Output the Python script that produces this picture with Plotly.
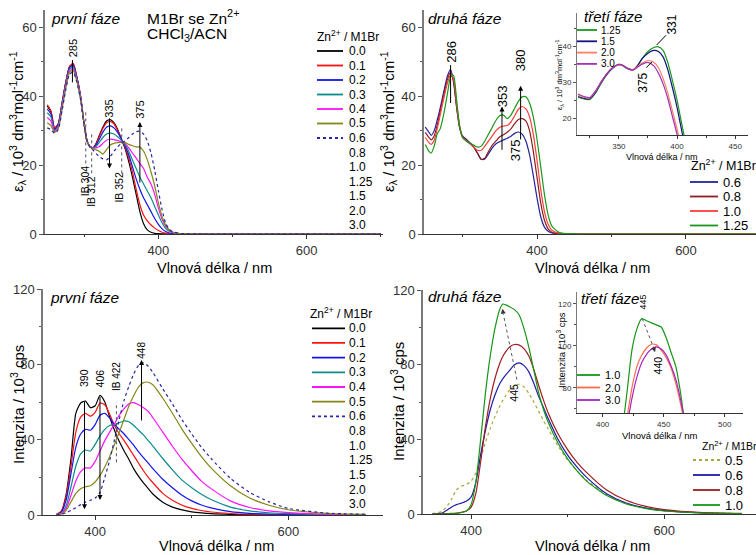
import plotly.graph_objects as go

FIG_W, FIG_H = 756, 555
FONT = "Liberation Sans, Arial, sans-serif"

# ---------------- DATA ----------------
# Top-left: absorption, "první fáze"
WL_ABS1 = [250, 255, 260, 265, 270, 275, 280, 285, 290, 295, 300, 304, 308, 312, 316, 320, 325, 330, 335, 340,
           345, 350, 355, 360, 365, 370, 375, 380, 385, 390, 395, 400, 405, 410, 415, 420, 430, 450, 500, 600, 700]
ABS1_00 = [37.2, 35.5, 30.5, 32.0, 38.0, 44.0, 48.5, 49.3, 45.5, 40.0, 31.5, 26.8, 25.3, 25.0, 26.3, 28.5, 31.0, 32.8, 33.2, 32.3,
           30.3, 27.5, 24.8, 21.0, 16.5, 11.5, 6.5, 3.0, 1.2, 0.5, 0.2, 0.1, 0.05, 0.03, 0.02, 0.01, 0, 0, 0, 0, 0]
ABS1_01 = [37.5, 35.8, 30.8, 32.1, 38.0, 44.0, 48.6, 49.5, 45.6, 40.0, 31.5, 26.8, 25.3, 25.0, 26.1, 28.2, 30.6, 32.3, 32.7, 32.0,
           30.0, 27.6, 25.2, 22.0, 18.0, 13.0, 8.5, 5.5, 3.8, 2.6, 1.7, 1.0, 0.5, 0.25, 0.1, 0.05, 0, 0, 0, 0, 0]
ABS1_02 = [36.3, 34.8, 30.3, 31.8, 37.7, 43.7, 48.2, 49.0, 45.3, 39.8, 31.5, 26.8, 25.3, 25.0, 25.8, 27.4, 29.5, 31.0, 31.4, 30.8,
           29.5, 27.6, 25.6, 23.0, 19.5, 16.0, 13.0, 10.5, 8.5, 6.5, 4.5, 2.8, 1.5, 0.7, 0.3, 0.1, 0, 0, 0, 0, 0]
ABS1_03 = [35.2, 34.0, 30.0, 31.4, 37.3, 43.3, 47.8, 48.5, 45.0, 39.6, 31.5, 26.8, 25.3, 25.0, 25.4, 26.5, 28.0, 29.0, 29.3, 29.0,
           28.2, 27.2, 26.0, 24.0, 21.5, 19.0, 16.5, 14.5, 12.5, 10.5, 8.0, 5.5, 3.2, 1.6, 0.7, 0.3, 0.05, 0, 0, 0, 0]
ABS1_04 = [33.8, 32.8, 29.7, 31.0, 36.8, 42.8, 47.3, 48.0, 44.7, 39.4, 31.5, 26.8, 25.3, 24.9, 25.0, 25.3, 26.3, 27.2, 27.5, 27.4,
           27.1, 26.8, 26.3, 25.0, 23.5, 22.0, 20.5, 19.0, 16.5, 14.5, 11.5, 7.5, 4.3, 2.2, 1.0, 0.4, 0.05, 0, 0, 0, 0]
ABS1_05 = [32.3, 31.5, 29.5, 30.7, 36.3, 42.3, 46.8, 47.5, 44.4, 39.2, 31.5, 26.8, 25.3, 24.7, 24.4, 24.0, 23.2, 24.5, 25.8, 26.3,
           26.5, 26.6, 26.5, 26.0, 25.6, 25.3, 25.2, 24.0, 21.5, 18.0, 14.0, 9.0, 5.0, 2.5, 1.1, 0.5, 0.1, 0, 0, 0, 0]
ABS1_06 = [30.8, 30.3, 29.2, 30.3, 35.8, 41.8, 46.3, 47.0, 44.0, 39.0, 31.5, 26.8, 25.0, 24.3, 23.3, 22.5, 21.8, 21.5, 22.5, 24.0,
           25.3, 26.3, 27.0, 28.0, 29.0, 29.7, 29.8, 29.0, 27.0, 23.5, 18.5, 12.5, 7.0, 3.0, 1.3, 0.6, 0.15, 0, 0, 0, 0]
LEGEND1_LABELS = ["0.0", "0.1", "0.2", "0.3", "0.4", "0.5", "0.6", "0.8", "1.0", "1.25", "1.5", "2.0", "3.0"]

# Top-right: absorption, "druhá fáze"
WL_ABS2 = [250, 255, 258, 262, 266, 270, 275, 280, 284, 288, 292, 296, 300, 305, 310, 315, 320, 325, 330, 335,
           340, 345, 350, 355, 360, 365, 370, 375, 380, 385, 390, 395, 400, 405, 410, 415, 420, 430, 450, 500, 600, 700]
ABS2_06 = [31.0, 29.5, 28.6, 30.0, 33.0, 36.5, 41.5, 46.0, 47.8, 44.0, 37.0, 31.0, 28.5, 27.5, 26.5, 25.3, 23.5, 21.7, 21.8, 23.3,
           25.0, 26.2, 26.8, 27.3, 27.8, 28.4, 29.2, 29.6, 29.0, 27.0, 23.0, 17.0, 10.5, 5.0, 2.0, 0.8, 0.3, 0.05, 0, 0, 0, 0]
ABS2_08 = [29.5, 28.0, 27.3, 28.5, 31.5, 35.5, 40.5, 45.0, 47.0, 44.5, 37.0, 31.0, 28.3, 27.3, 26.3, 25.2, 23.5, 21.7, 22.0, 24.0,
           25.8, 27.0, 28.2, 28.8, 29.5, 30.5, 32.0, 33.2, 33.5, 32.8, 30.0, 24.0, 16.5, 9.0, 4.0, 1.5, 0.5, 0.1, 0, 0, 0, 0]
ABS2_10 = [28.0, 26.5, 26.0, 27.2, 30.5, 34.5, 39.5, 44.0, 46.2, 45.0, 38.0, 31.5, 28.0, 27.0, 26.2, 25.2, 24.3, 24.3, 25.5, 27.0,
           28.5, 30.0, 31.0, 31.3, 31.5, 32.5, 34.3, 36.2, 37.0, 36.3, 34.0, 29.0, 21.5, 13.0, 6.5, 2.8, 1.1, 0.2, 0, 0, 0, 0]
ABS2_125 = [26.0, 24.0, 23.5, 25.5, 29.0, 30.5, 35.0, 41.0, 45.5, 46.0, 39.0, 31.5, 28.0, 27.0, 26.3, 25.8, 25.2, 25.5, 27.0, 29.0,
            31.0, 33.0, 34.3, 34.5, 33.5, 34.5, 36.5, 38.5, 39.8, 39.8, 38.0, 34.0, 27.5, 19.5, 11.5, 5.5, 2.3, 0.4, 0.05, 0, 0, 0]
LEGEND2_LABELS = ["0.6", "0.8", "1.0", "1.25"]

# Inset of top-right: "třetí fáze"
WL_IN1 = [315, 320, 325, 330, 335, 340, 345, 350, 353, 357, 362, 366, 370, 375, 380, 384, 388, 392, 396, 400, 404, 408]
IN1_125 = [25.8, 25.3, 25.2, 27.0, 29.8, 32.2, 34.0, 34.8, 34.6, 33.8, 33.4, 34.5, 36.5, 38.5, 39.6, 39.8, 38.8, 35.5, 30.5, 25.0, 18.5, 12.0]
IN1_15 = [26.0, 25.5, 25.4, 27.2, 30.0, 32.3, 34.0, 34.9, 34.7, 33.9, 33.4, 34.6, 36.5, 38.0, 38.8, 38.5, 37.0, 33.5, 28.5, 23.0, 16.5, 10.0]
IN1_20 = [26.5, 25.8, 25.6, 27.5, 30.2, 32.5, 34.1, 34.8, 34.6, 33.8, 33.4, 34.3, 35.3, 36.0, 35.5, 34.0, 31.0, 27.0, 22.0, 17.0, 11.0, 5.0]
IN1_30 = [26.7, 26.0, 25.7, 27.6, 30.2, 32.5, 34.1, 34.9, 34.7, 33.8, 33.4, 34.1, 35.0, 35.5, 34.5, 32.5, 29.5, 25.5, 20.5, 15.5, 9.5, 4.0]
LEGEND_IN1_LABELS = ["1.25", "1.5", "2.0", "3.0"]

# Bottom-left: emission, "první fáze"
WL_EM1 = [360, 365, 370, 375, 380, 385, 390, 395, 400, 405, 410, 415, 420, 425, 430, 435, 440, 445, 450, 455,
          460, 470, 480, 490, 500, 510, 520, 540, 560, 580, 600, 640, 680]
EM1_00 = [0.3, 2, 11, 30, 54, 59.5, 60.5, 57, 58, 63.5, 60, 52, 45, 39, 34, 29.5, 24.5, 20.5, 17, 14,
          11, 6.8, 4.2, 2.7, 1.7, 1.1, 0.7, 0.35, 0.2, 0.1, 0.05, 0, 0]
EM1_01 = [0.3, 2, 10, 26, 44, 52, 54, 52.5, 54.5, 59.5, 58.5, 53.5, 47.5, 43, 39.5, 35.5, 31.5, 27.5, 23.5, 20,
          17, 11.5, 7.8, 5.2, 3.5, 2.4, 1.6, 0.8, 0.4, 0.2, 0.1, 0.05, 0]
EM1_02 = [0.3, 1.5, 8, 22, 36, 43, 45.5, 45, 48, 53, 54, 51.5, 48, 45.5, 43, 40, 37, 33.5, 30.5, 27.5,
          24.5, 19, 14.5, 10.5, 7.5, 5.3, 3.8, 1.8, 0.9, 0.5, 0.3, 0.1, 0.05]
EM1_03 = [0.2, 1, 5, 15, 26, 32.5, 34.5, 34, 37.5, 42, 45.5, 47.5, 48, 49, 50, 49.5, 47.5, 45, 42.5, 39.5,
          36.5, 30, 24, 18.5, 14.5, 11, 8.2, 4.2, 2.2, 1.2, 0.7, 0.2, 0.1]
EM1_04 = [0.2, 0.8, 3.5, 10.5, 18, 23, 25, 25, 28.5, 34, 39.5, 44, 48.5, 53, 56.5, 59, 59.7, 58.5, 57, 55,
          51.5, 44, 36.5, 29.5, 23.5, 18, 14, 7.5, 4, 2.2, 1.3, 0.4, 0.15]
EM1_05 = [0.1, 0.5, 2.5, 7, 11.5, 14, 15, 15.5, 17.5, 21, 25.5, 31, 37.5, 44, 51, 58, 63.5, 68, 70.3, 70.5,
          69, 62, 54, 45.5, 38, 31, 25, 15.5, 9, 5.2, 2.8, 0.9, 0.3]
EM1_06 = [0, 0.3, 1.2, 2.5, 3.8, 5.5, 6.8, 7.8, 9, 12, 20, 29, 40, 51, 61, 68.5, 75, 79.5, 80.8, 79,
          75.5, 67, 59, 50.5, 43, 36, 30, 19.5, 12, 7, 3.5, 1.0, 0.4]

# Bottom-right: emission, "druhá fáze"
WL_EM2 = [360, 365, 370, 375, 380, 385, 390, 395, 400, 405, 410, 415, 420, 425, 430, 433, 436, 440, 445, 450,
          455, 460, 465, 470, 475, 480, 490, 500, 510, 520, 540, 560, 580, 600, 640, 680]
EM2_05 = [0.2, 0.6, 1.5, 4, 8, 13, 14.8, 15.8, 17.5, 22, 30, 38.5, 46, 52.5, 58, 61, 63.5, 66.5, 69, 69.5,
          68, 64.5, 60, 55, 50, 45.5, 36.5, 29, 23, 18, 10.5, 5.8, 3.2, 1.8, 0.6, 0.2]
EM2_06 = [0, 0.1, 0.5, 2, 3.8, 5, 5.8, 6.8, 9, 17, 32, 45, 56, 64, 70, 72.5, 74.5, 77, 80, 81,
          79.5, 76, 70, 63, 57, 51, 40, 31.5, 25, 19.5, 11, 6, 3.3, 1.8, 0.6, 0.2]
EM2_08 = [0, 0, 0.1, 0.2, 0.3, 0.5, 0.9, 1.6, 3.5, 11, 28, 47, 62, 73, 81, 84.5, 87, 89.5, 90.8, 90.5,
          88.5, 84.5, 77.5, 69, 61, 54, 43, 34.5, 27.5, 22, 13, 7.5, 4.2, 2.3, 0.7, 0.3]
EM2_10 = [0, 0, 0, 0.1, 0.2, 0.4, 0.8, 1.5, 5, 17, 40, 65, 85, 100, 110, 112.5, 112, 111, 109.5, 106.5,
          99, 89, 77, 65, 56, 49, 38, 29.5, 23, 17.5, 10, 5.5, 3, 1.6, 0.5, 0.15]
LEGEND4_LABELS = ["0.5", "0.6", "0.8", "1.0"]

# Inset of bottom-right: "třetí fáze"
WL_IN2 = [412, 416, 420, 424, 428, 432, 436, 440, 444, 448, 452, 456, 460, 464, 468, 472]
IN2_10 = [50, 60, 78, 98, 108, 113, 112, 111, 110, 109, 104, 97, 90, 77, 60, 48]
IN2_20 = [42, 53, 66, 80, 90, 95.5, 99, 100.8, 100.5, 98, 94.5, 89.5, 82, 72, 61, 50]
IN2_30 = [38, 48, 62, 75, 85, 92, 96, 98.5, 99.5, 98.5, 95.7, 90.5, 84, 74, 62, 51]
LEGEND_IN2_LABELS = ["1.0", "2.0", "3.0"]

# ---------------- STYLE ----------------
C_BLACK, C_RED, C_BLUE, C_TEAL = "#000000", "#FF1010", "#1414F0", "#0A8C8C"
C_MAG, C_OLIVE, C_NAVYDOT = "#FF10FF", "#86861A", "#2828A0"
C2_06, C2_08, C2_10, C2_125 = "#22229E", "#8E1E1E", "#FF3C3C", "#18991A"
CI1 = ["#18991A", "#141482", "#FF7F66", "#A032B4"]
C4 = ["#A8A83A", "#1C1CAA", "#A01E1E", "#169616"]
CI2 = ["#169616", "#FF6A4D", "#A424C4"]


def px_x(x):
    return x / FIG_W


def px_y(y):
    return 1 - y / FIG_H


fig = go.Figure()


def add_series(xs, ys, color, axis_id, dash="solid", width=1.2):
    fig.add_trace(go.Scatter(
        x=xs, y=ys, mode="lines", showlegend=False, hoverinfo="skip",
        line=dict(color=color, width=width, dash=dash, shape="spline", smoothing=0.6),
        xaxis="x" + axis_id, yaxis="y" + axis_id))


# panel 1
for ys, col, dash in [(ABS1_00, C_BLACK, "solid"), (ABS1_01, C_RED, "solid"), (ABS1_02, C_BLUE, "solid"),
                      (ABS1_03, C_TEAL, "solid"), (ABS1_04, C_MAG, "solid"), (ABS1_05, C_OLIVE, "solid"),
                      (ABS1_06, C_NAVYDOT, "dot")]:
    add_series(WL_ABS1, ys, col, "", dash)
# panel 2
for ys, col in [(ABS2_06, C2_06), (ABS2_08, C2_08), (ABS2_10, C2_10), (ABS2_125, C2_125)]:
    add_series(WL_ABS2, ys, col, "2")
# inset 1
for ys, col in zip([IN1_125, IN1_15, IN1_20, IN1_30], CI1):
    add_series(WL_IN1, ys, col, "5")
# panel 3
for ys, col, dash in [(EM1_00, C_BLACK, "solid"), (EM1_01, C_RED, "solid"), (EM1_02, C_BLUE, "solid"),
                      (EM1_03, C_TEAL, "solid"), (EM1_04, C_MAG, "solid"), (EM1_05, C_OLIVE, "solid"),
                      (EM1_06, C_NAVYDOT, "dot")]:
    add_series(WL_EM1, ys, col, "3", dash)
# panel 4
for ys, col, dash in zip([EM2_05, EM2_06, EM2_08, EM2_10], C4, ["dot", "solid", "solid", "solid"]):
    add_series(WL_EM2, ys, col, "4", dash)
# inset 2
for ys, col in zip([IN2_10, IN2_20, IN2_30], CI2):
    add_series(WL_IN2, ys, col, "6")


def xaxis(px0, px1, rng, dtick, mdtick, anchor, fs=13, lw=1.2, tl=4):
    return dict(domain=[px_x(px0), min(1.0, px_x(px1))], range=rng, anchor=anchor, automargin=False,
                showline=True, linecolor="#333", linewidth=lw, ticks="outside", ticklen=tl,
                tickcolor="#333", dtick=dtick, tick0=0, showgrid=False, zeroline=False,
                minor=dict(dtick=mdtick, ticks="outside", ticklen=2, tickcolor="#333", showgrid=False),
                tickfont=dict(size=fs, color="#333", family=FONT))


def yaxis(py_top, py_bot, rng, dtick, mdtick, anchor, fs=13, lw=1.5, tl=4):
    return dict(domain=[px_y(py_bot), px_y(py_top)], range=rng, anchor=anchor, automargin=False,
                showline=True, linecolor="#7a7a7a", linewidth=lw, ticks="outside", ticklen=tl,
                tickcolor="#555", dtick=dtick, tick0=0, showgrid=False, zeroline=False,
                minor=dict(dtick=mdtick, ticks="outside", ticklen=2, tickcolor="#555", showgrid=False),
                tickfont=dict(size=fs, color="#333", family=FONT))


fig.update_layout(
    template="none",
    width=FIG_W, height=FIG_H, margin=dict(l=0, r=0, t=0, b=0, autoexpand=False),
    paper_bgcolor="white", plot_bgcolor="rgba(0,0,0,0)", showlegend=False,
    font=dict(family=FONT, color="black"),
    xaxis=xaxis(45, 383, [247, 703], 200, 100, "y"),
    yaxis=yaxis(10, 234, [0, 65], 20, 10, "x"),
    xaxis2=xaxis(424, 756, [248.3, 694], 200, 100, "y2"),
    yaxis2=yaxis(10, 234, [0, 65], 20, 10, "x2"),
    xaxis3=xaxis(43, 383, [346, 698], 200, 100, "y3"),
    yaxis3=yaxis(289, 515, [0, 120], 40, 20, "x3"),
    xaxis4=xaxis(423, 756, [350.3, 695], 200, 100, "y4"),
    yaxis4=yaxis(290, 514, [0, 120], 40, 20, "x4"),
    xaxis5=xaxis(577, 748, [314, 461], 50, 25, "y5", fs=8, lw=1, tl=3),
    yaxis5=yaxis(13, 135, [15.3, 49.2], 10, 5, "x5", fs=8, lw=1, tl=3),
    xaxis6=xaxis(577, 743, [379, 515], 50, 25, "y6", fs=8, lw=1, tl=3),
    yaxis6=yaxis(292, 413, [68, 125.7], 20, 10, "x6", fs=8, lw=1, tl=3),
)

ann = []
shapes = []


def ptext(text, x, y, size, italic=False, anchor="left", angle=0):
    ann.append(dict(text=text, x=px_x(x), y=px_y(y), xref="paper", yref="paper", showarrow=False,
                    xanchor=anchor, yanchor="middle", textangle=angle,
                    font=dict(size=size, family=FONT, color="black",
                              style="italic" if italic else "normal")))


def rtext(text, x, y, ax_id, size):
    ann.append(dict(text=text, x=x, y=y, xref="x" + ax_id, yref="y" + ax_id, showarrow=False,
                    textangle=-90, xanchor="center", yanchor="middle",
                    font=dict(size=size, family=FONT, color="black")))


def arrow(x0, y0, x1, y1, ax_id, color="black"):
    ann.append(dict(text="", x=x1, y=y1, ax=x0, ay=y0, xref="x" + ax_id, yref="y" + ax_id,
                    axref="x" + ax_id, ayref="y" + ax_id, showarrow=True, arrowhead=2,
                    arrowsize=1, arrowwidth=1, arrowcolor=color, standoff=0, startstandoff=0))


def seg(x0, y0, x1, y1, ax_id, dash="solid", color="black", width=1):
    shapes.append(dict(type="line", x0=x0, y0=y0, x1=x1, y1=y1, xref="x" + ax_id, yref="y" + ax_id,
                       line=dict(color=color, width=width, dash=dash)))


def legend(title, tx, ty, labels, colors, dashes, y0, step, lx0, lx1, txt_x, fs, tfs):
    if title:
        ptext(title, tx, ty, tfs)
    for i, lab in enumerate(labels):
        y = y0 + i * step
        col = colors[i] if i < len(colors) else None
        if col:
            shapes.append(dict(type="line", xref="paper", yref="paper", x0=px_x(lx0), x1=px_x(lx1),
                               y0=px_y(y), y1=px_y(y),
                               line=dict(color=col, width=1.8, dash=dashes[i])))
        ptext(lab, txt_x, y, fs)


ZN = "Zn<sup>2+</sup> / M1Br"
legend(ZN, 315, 36, LEGEND1_LABELS, [C_BLACK, C_RED, C_BLUE, C_TEAL, C_MAG, C_OLIVE, C_NAVYDOT],
       ["solid"] * 6 + ["dot"], 51, 14.5, 317, 343, 347, 12, 12)
legend(ZN, 689, 165, LEGEND2_LABELS, [C2_06, C2_08, C2_10, C2_125], ["solid"] * 4,
       182, 14.5, 690, 718, 721, 13, 12.5)
legend("", 577, 30, LEGEND_IN1_LABELS, CI1, ["solid"] * 4, 30, 11.3, 577, 597, 599, 10, 10)
legend(ZN, 308, 313, LEGEND1_LABELS, [C_BLACK, C_RED, C_BLUE, C_TEAL, C_MAG, C_OLIVE, C_NAVYDOT],
       ["solid"] * 6 + ["dot"], 328.3, 14.67, 312, 345, 347, 12, 12)
legend(ZN, 700, 445, LEGEND4_LABELS, C4, ["dot", "solid", "solid", "solid"], 460, 15, 693, 720, 723, 13, 10.5)
legend("", 577, 375, LEGEND_IN2_LABELS, CI2, ["solid"] * 3, 375, 12.5, 577, 600, 603, 11, 11)

# panel titles
ptext("první fáze", 49, 18, 15.5, italic=True)
ptext("M1Br se Zn<sup>2+</sup>", 145, 17, 15.5)
ptext("CHCl<sub>3</sub>/ACN", 145, 34, 15.5)
ptext("druhá fáze", 426, 18, 15.5, italic=True)
ptext("třetí fáze", 582, 16, 15, italic=True)
ptext("první fáze", 48, 297, 15.5, italic=True)
ptext("druhá fáze", 426, 296, 15.5, italic=True)
ptext("třetí fáze", 579, 298, 15, italic=True)

# axis titles
XT = "Vlnová délka / nm"
EPS = "ε<sub>λ</sub> / 10<sup>3</sup> dm<sup>3</sup>mol<sup>-1</sup>cm<sup>-1</sup>"
INT = "Intenzita / 10<sup>3</sup> cps"
ptext(XT, 214, 268, 14.5, anchor="center")
ptext(XT, 592, 268, 14.5, anchor="center")
ptext(XT, 216, 546, 14.5, anchor="center")
ptext(XT, 592, 546, 14.5, anchor="center")
ptext(XT, 662, 157, 9, anchor="center")
ptext(XT, 660, 435, 9.5, anchor="center")
ptext(EPS, 18, 122, 15, anchor="center", angle=-90)
ptext(EPS, 389, 122, 15, anchor="center", angle=-90)
ptext(INT, 17, 405, 15, anchor="center", angle=-90)
ptext(INT, 397, 402, 15, anchor="center", angle=-90)
ptext(EPS, 560, 75, 7.5, anchor="center", angle=-90)
ptext(INT, 561, 350, 9.5, anchor="center", angle=-90)

# panel 1 markers
rtext("285", 284, 54, "", 11)
seg(284, 50.5, 284, 44, "")
rtext("335", 334, 36.5, "", 11)
arrow(334, 34, 334, 19, "")
rtext("375", 375, 36, "", 11)
arrow(375, 14.5, 375, 32.5, "")
rtext("IB 304", 300.5, 15.5, "", 10.5)
seg(302, 20.5, 302, 36, "", dash="dot", color="#555")
rtext("IB 312", 308, 12.3, "", 10.5)
seg(310, 17.6, 310, 29, "", dash="dot", color="#555")
rtext("IB 352", 347, 13.5, "", 10.5)
seg(350.5, 17.6, 350.5, 31, "", dash="dot", color="#555")

# panel 2 markers
rtext("286", 284, 52.8, "2", 13)
seg(284, 49, 284, 38, "2")
rtext("353", 353, 40, "2", 13)
arrow(353, 24, 353, 37, "2")
rtext("380", 379, 50.5, "2", 13)
arrow(378, 27, 378, 43, "2")
rtext("375", 370.5, 24.3, "2", 13)

# inset 1 markers
rtext("331", 396, 46.1, "5", 12)
seg(390.5, 43, 382.5, 40.3, "5")
rtext("375", 371, 29.9, "5", 12)
seg(373.5, 34, 378.4, 35.6, "5")

# panel 3 markers
rtext("390", 389, 72.5, "3", 10.5)
arrow(389, 61, 389, 3, "3")
rtext("406", 405, 72.5, "3", 10.5)
arrow(405, 63.5, 405, 8, "3")
rtext("IB 422", 422, 73.5, "3", 10)
seg(422, 28, 422, 60, "3", dash="dot", color="#555")
rtext("448", 448, 87.5, "3", 10)
arrow(448, 49.4, 448, 82.3, "3")

# panel 4 markers
rtext("432", 434, 120.5, "4", 10)
seg(447.5, 72, 433.5, 107, "4", dash="dot", color="#555")
arrow(433.5, 107, 432.5, 110, "4", color="#333")
rtext("445", 444.5, 65, "4", 10.5)

# inset 2 markers
rtext("445", 432.8, 121, "6", 9)
seg(432.5, 113, 441.5, 99.5, "6", dash="dot", color="#555")
arrow(441.5, 99.5, 443, 97, "6", color="#333")
rtext("440", 445, 90.5, "6", 10.5)

fig.update_layout(annotations=ann, shapes=shapes)
fig.write_html("out.html", config={"displayModeBar": False},
               post_script="document.body.style.margin='0';")
